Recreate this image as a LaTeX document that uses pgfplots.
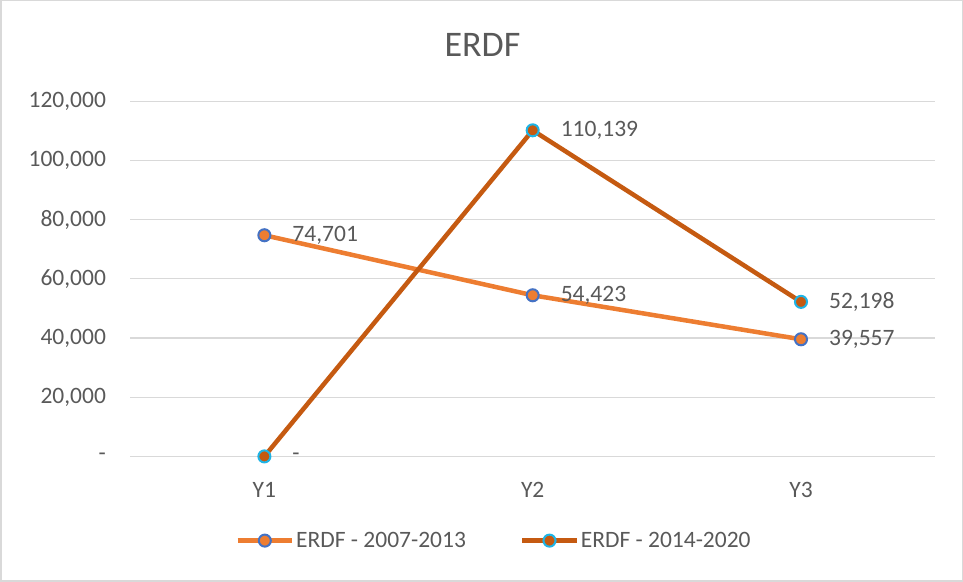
\documentclass[border=0pt]{standalone}
\usepackage{pgfplots}
\pgfplotsset{compat=1.18}
\usepackage{fontspec}
\setmainfont{Carlito}
\definecolor{sA}{HTML}{ED7D31}
\definecolor{sB}{HTML}{C55A11}
\definecolor{eA}{HTML}{4472C4}
\definecolor{eB}{HTML}{1EB4E6}
\definecolor{txt}{HTML}{595959}
\definecolor{gridc}{HTML}{D9D9D9}
\pgfplotstableread{
x y lab
0 74701 {74,701}
1 54423 {54,423}
2 39557 {39,557}
}\dataA
\pgfplotstableread{
x y lab
0 0 {-}
1 110139 {110,139}
2 52198 {52,198}
}\dataB
\begin{document}
\begin{tikzpicture}[x=1bp,y=1bp]
\draw[gridc, line width=1.5bp] (-129bp,-124bp) rectangle (829bp,454bp);
\begin{axis}[
  at={(0,0)}, anchor=south west,
  width=802bp, height=354bp, scale only axis,
  xmin=-0.5, xmax=2.5, ymin=0, ymax=120000,
  xtick={0,1,2}, xticklabels={Y1,Y2,Y3},
  ytick={0,20000,40000,60000,80000,100000,120000},
  yticklabels={-,{20,000},{40,000},{60,000},{80,000},{100,000},{120,000}},
  scaled y ticks=false,
  axis line style={draw=none},
  major tick length=0pt,
  ymajorgrids, grid style={gridc, line width=1.2bp},
  tick label style={font=\fontsize{23.5}{27}\selectfont, text=txt},
  yticklabel style={inner sep=0pt, xshift=-24bp},
  xticklabel style={inner sep=0pt, yshift=-26bp},
  clip=false,
  legend style={at={(0.452,-0.237)}, anchor=center, draw=none, fill=none,
    legend columns=2, font=\fontsize{23.5}{27}\selectfont, text=txt,
    /tikz/every even column/.append style={column sep=52bp},
    inner sep=0pt},
  legend image code/.code={
    \draw[#1, mark repeat=2, mark phase=2] plot coordinates {(0bp,0bp) (27bp,0bp) (54bp,0bp)};
  },
  nodes near coords,
  point meta=explicit symbolic,
  every node near coord/.append style={anchor=west, inner sep=0pt, xshift=27bp, yshift=0bp,
    font=\fontsize{23.5}{27}\selectfont, text=txt},
]
\addplot[sA, line width=4.5bp, mark=*, mark size=6bp,
  mark options={fill=sA, draw=eA, line width=2bp}]
  table[x=x, y=y, meta=lab] {\dataA};
\addlegendentry{ERDF - 2007-2013}
\addplot[sB, line width=4.5bp, mark=*, mark size=6bp,
  mark options={fill=sB, draw=eB, line width=2bp}]
  table[x=x, y=y, meta=lab] {\dataB};
\addlegendentry{ERDF - 2014-2020}
\end{axis}
\node[font=\fontsize{36}{40}\selectfont, text=txt] at (351bp,410bp) {ERDF};
\end{tikzpicture}
\end{document}
